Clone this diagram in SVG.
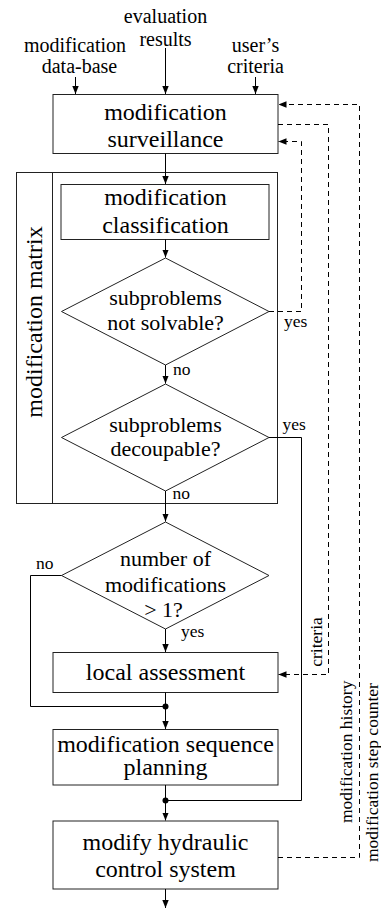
<svg xmlns="http://www.w3.org/2000/svg" width="381" height="910" viewBox="0 0 381 910">
<defs>
<marker id="ah" viewBox="0 0 10 10" refX="10" refY="5" markerWidth="8" markerHeight="8" markerUnits="userSpaceOnUse" orient="auto"><path d="M0,1 L10,5 L0,9 z" fill="#000"/></marker>
<style>
.lbl{font-size:20px;text-anchor:middle;fill:#000}
.box{font-size:24px;text-anchor:middle;fill:#000}
.dia{font-size:22px;text-anchor:middle;fill:#000}
.sm{font-size:17.5px;fill:#000}
.node{fill:#fff;stroke:#222;stroke-width:1}
.frame{fill:none;stroke:#222;stroke-width:1}
.ln{fill:none;stroke:#000;stroke-width:1}
.arr{fill:none;stroke:#000;stroke-width:1;marker-end:url(#ah)}
.dasharr{fill:none;stroke:#000;stroke-width:1;stroke-dasharray:5,4;marker-end:url(#ah)}
</style>
</defs>
<rect width="381" height="910" fill="#fff"/>

<g id="inputs">
<text class="lbl" style="font-family:'Liberation Serif' !important" x="75" y="51.5">modification</text>
<text class="lbl" style="font-family:'Liberation Serif' !important" x="79.5" y="73">data-base</text>
<text class="lbl" style="font-family:'Liberation Serif' !important" x="165.5" y="22.5">evaluation</text>
<text class="lbl" style="font-family:'Liberation Serif' !important" x="165.5" y="45.5">results</text>
<text class="lbl" style="font-family:'Liberation Serif' !important" x="255.5" y="51.5">user’s</text>
<text class="lbl" style="font-family:'Liberation Serif' !important" x="255.5" y="73">criteria</text>
</g>

<g id="matrix">
<rect class="frame" x="16.5" y="172.5" width="261" height="331"/>
<line class="frame" x1="52.5" y1="172.5" x2="52.5" y2="503.5"/>
<text class="box" style="font-family:'Liberation Serif' !important" transform="translate(42,322) rotate(-90)">modification matrix</text>
</g>

<g id="surveillance">
<rect class="node" x="53" y="94.5" width="225" height="59"/>
<text class="box" style="font-family:'Liberation Serif' !important" x="165.5" y="120">modification</text>
<text class="box" style="font-family:'Liberation Serif' !important" x="165.5" y="146.5">surveillance</text>
</g>

<g id="classification">
<rect class="node" x="61" y="184.5" width="208" height="55"/>
<text class="box" style="font-family:'Liberation Serif' !important" x="165.5" y="205">modification</text>
<text class="box" style="font-family:'Liberation Serif' !important" x="165.5" y="232.5">classification</text>
</g>

<g id="notsolvable">
<polygon class="node" points="165.5,258 269,311.5 165.5,365 61.5,311.5"/>
<text class="dia" style="font-family:'Liberation Serif' !important" x="165.5" y="305">subproblems</text>
<text class="dia" style="font-family:'Liberation Serif' !important" x="165.5" y="330">not solvable?</text>
</g>

<g id="decoupable">
<polygon class="node" points="165.5,384 269,437.5 165.5,491 61.5,437.5"/>
<text class="dia" style="font-family:'Liberation Serif' !important" x="165.5" y="431.5">subproblems</text>
<text class="dia" style="font-family:'Liberation Serif' !important" x="165.5" y="456">decoupable?</text>
</g>

<g id="number">
<polygon class="node" points="165.5,522 269,575.5 165.5,629 61.5,575.5"/>
<text class="dia" style="font-family:'Liberation Serif' !important" x="165.5" y="566">number of</text>
<text class="dia" style="font-family:'Liberation Serif' !important" x="165.5" y="591.5">modifications</text>
<text class="dia" style="font-family:'Liberation Serif' !important" x="163.5" y="616.5">&gt; 1?</text>
</g>

<g id="local">
<rect class="node" x="53" y="652.5" width="225" height="40"/>
<text class="box" style="font-family:'Liberation Serif' !important" x="165.5" y="679.5">local assessment</text>
</g>

<g id="sequence">
<rect class="node" x="53" y="729.5" width="225" height="55.5"/>
<text class="box" style="font-family:'Liberation Serif' !important" x="165.5" y="751.5">modification sequence</text>
<text class="box" style="font-family:'Liberation Serif' !important" x="165.5" y="775">planning</text>
</g>

<g id="modify">
<rect class="node" x="53" y="821" width="225" height="68"/>
<text class="box" style="font-family:'Liberation Serif' !important" x="165.5" y="850">modify hydraulic</text>
<text class="box" style="font-family:'Liberation Serif' !important" x="165.5" y="876.5">control system</text>
</g>

<g id="connectors">
<path class="arr" d="M75.5,77 V94"/>
<path class="arr" d="M165.5,48 V94"/>
<path class="arr" d="M255.5,77 V94"/>
<path class="arr" d="M165.5,153.5 V184"/>
<path class="arr" d="M165.5,239.5 V257.5"/>
<path class="arr" d="M165.5,365 V383.5"/>
<path class="arr" d="M165.5,491 V521.5"/>
<path class="arr" d="M165.5,629 V652"/>
<path class="arr" d="M165.5,692.5 V729"/>
<path class="ln" d="M61.5,575.5 H30.5 V706.5 H165.5"/>
<circle cx="165.5" cy="706.5" r="3"/>
<path class="ln" d="M269,437.5 H301.5 V800.5 H165.5"/>
<path class="arr" d="M165.5,785 V820.5"/>
<circle cx="165.5" cy="800.5" r="3"/>
<path class="arr" d="M165.5,889 V908"/>
<path class="dasharr" d="M269,311.5 H301.5 V141.5 H278.5"/>
<path class="dasharr" d="M278,124.5 H328.5 V674.5 H278.5"/>
<path class="dasharr" d="M278,857.5 H359.5 V104.5 H278.5"/>
<text class="sm" style="font-family:'Liberation Serif' !important" x="284" y="327">yes</text>
<text class="sm" style="font-family:'Liberation Serif' !important" x="173" y="375">no</text>
<text class="sm" style="font-family:'Liberation Serif' !important" x="282.5" y="429.5">yes</text>
<text class="sm" style="font-family:'Liberation Serif' !important" x="172.5" y="498.5">no</text>
<text class="sm" style="font-family:'Liberation Serif' !important" x="36" y="568.5">no</text>
<text class="sm" style="font-family:'Liberation Serif' !important" x="181" y="637">yes</text>
<text class="sm" style="font-family:'Liberation Serif' !important" text-anchor="middle" transform="translate(322,642) rotate(-90)">criteria</text>
<text class="sm" style="font-family:'Liberation Serif' !important" transform="translate(351.5,823) rotate(-90)">modification history</text>
<text class="sm" style="font-family:'Liberation Serif' !important" transform="translate(377.5,862) rotate(-90)">modification step counter</text>
</g>
</svg>
